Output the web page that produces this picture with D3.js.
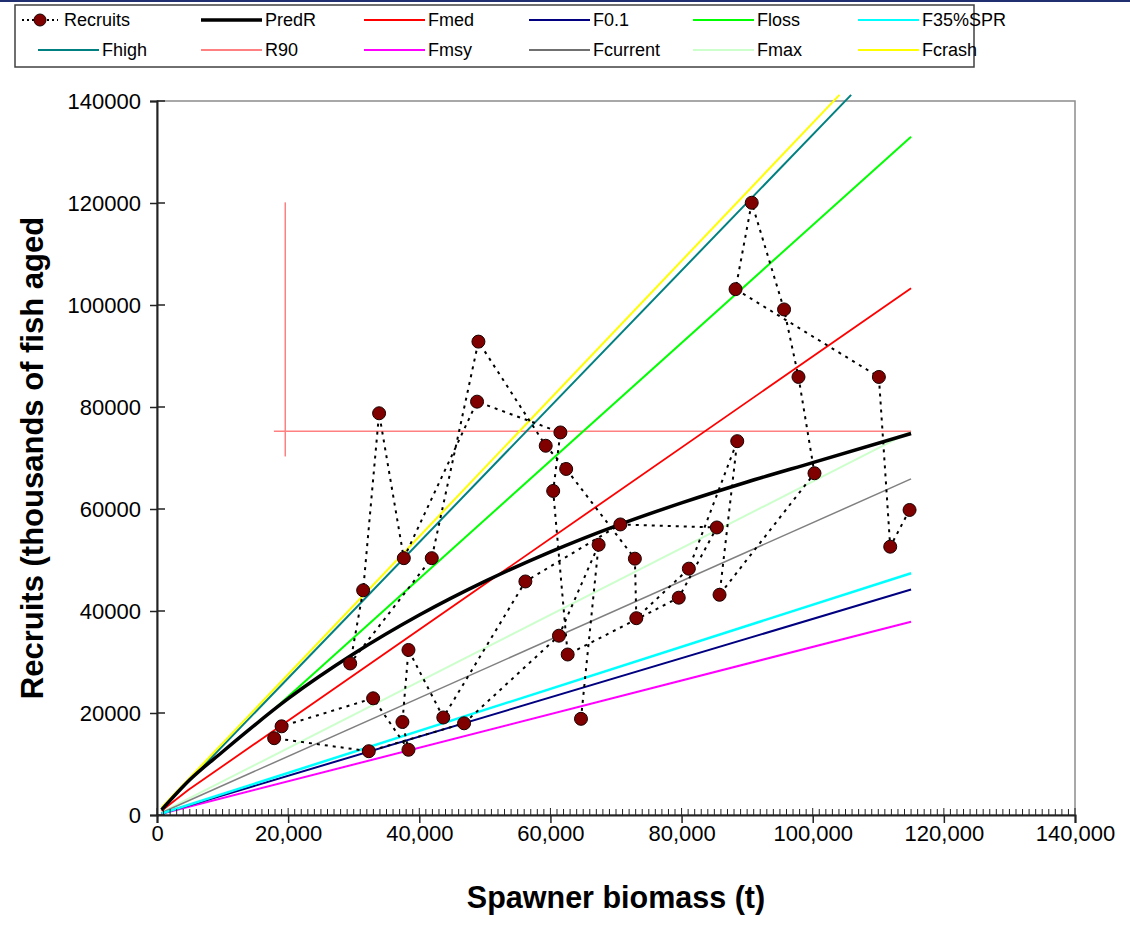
<!DOCTYPE html>
<html><head><meta charset="utf-8">
<script src="https://cdn.jsdelivr.net/npm/d3@7"></script>
<style>body{margin:0;background:#fff} svg{display:block} text{font-family:"Liberation Sans",Arial,sans-serif}</style>
</head><body><svg id="c" width="1130" height="937"></svg>
<script>
// ---- Observed recruits (connected in time order) ----
const recruitSSB = [64660,67350,61300,46830,32300,17870,19000,32960,38350,37430,38350,43660,56180,70660,85380,79570,62630,60420,61520,48810,37640,33870,31440,29460,41900,49020,59280,62400,72880,73100,81110,88490,85790,100270,97830,95630,90700,88230,110090,111820,114770];
const recruitValues = [18860,52990,35160,17980,12510,15060,17390,22880,12790,18240,32360,19120,45790,56970,56380,42610,31470,63540,75010,81050,50360,78770,44060,29710,50360,92820,72400,67850,50260,38590,48300,73300,43180,67010,85890,99130,120050,103110,85890,52610,59810];

// ---- Predicted recruitment curve ----
const predSSB = [700,5000,10000,20000,30000,40000,50000,60000,70000,80000,90000,100000,115000];
const predValues = [1000,6900,12400,22800,31600,39200,45800,51600,56700,61200,65300,69100,74800];

// ---- Reference lines (SSB, recruits) ----
const fmedSSB = [700,4760,115000];       const fmedValues = [850,4900,103300];
const f01SSB = [700,115000];             const f01Values = [280,44200];
const flossSSB = [17980,115000];         const flossValues = [20900,133000];
const f35SSB = [700,115000];             const f35Values = [300,47400];
const fhighSSB = [700,105860];           const fhighValues = [1130,141200];
const r90hSSB = [17830,115000];          const r90hValues = [75230,75230];
const r90vSSB = [19560,19560];           const r90vValues = [70300,120130];
const fmsySSB = [700,115000];            const fmsyValues = [250,37900];
const fcurSSB = [700,115000];            const fcurValues = [450,65900];
const fmaxSSB = [700,115000];            const fmaxValues = [500,75200];
const fcrashSSB = [700,104080];          const fcrashValues = [1500,141200];

const xTicks = [0,20000,40000,60000,80000,100000,120000,140000];
const yTicks = [0,20000,40000,60000,80000,100000,120000,140000];

const legendNames = ["Recruits","PredR","Fmed","F0.1","Floss","F35%SPR","Fhigh","R90","Fmsy","Fcurrent","Fmax","Fcrash"];
const legendColors = ["#000","#000","#ff0000","#000080","#00ff00","#00ffff","#008080","#ff8080","#ff00ff","#707070","#ccffcc","#ffff00"];

// ---- Drawing ----
const svg = d3.select("#c");
const L = 157, R = 1075, T = 101, B = 815;
const x = d3.scaleLinear().domain([0,140000]).range([L,R]);
const y = d3.scaleLinear().domain([0,140000]).range([B,T]);

svg.append("rect").attr("x",0).attr("y",0).attr("width",1130).attr("height",2).attr("fill","#1f2f6f");

svg.append("rect").attr("x",L).attr("y",T).attr("width",R-L).attr("height",B-T)
  .attr("fill","none").attr("stroke","#8c8c8c").attr("stroke-width",1.5);

svg.append("clipPath").attr("id","clip").append("rect")
  .attr("x",L).attr("y",93).attr("width",R-L).attr("height",B-93);

const line = d3.line().x(d=>x(d[0])).y(d=>y(d[1]));
const g = svg.append("g").attr("clip-path","url(#clip)");
function zip(a,b){return a.map((v,i)=>[v,b[i]]);}

const series = [
  {d:zip(fmaxSSB,fmaxValues), c:"#ccffcc", w:2},
  {d:zip(fcurSSB,fcurValues), c:"#808080", w:1.5},
  {d:zip(fmsySSB,fmsyValues), c:"#ff00ff", w:2},
  {d:zip(f01SSB,f01Values), c:"#000080", w:2},
  {d:zip(f35SSB,f35Values), c:"#00ffff", w:2.5},
  {d:zip(r90hSSB,r90hValues), c:"#ff8080", w:1.5},
  {d:zip(r90vSSB,r90vValues), c:"#ff8080", w:1.5},
  {d:zip(fmedSSB,fmedValues), c:"#ff0000", w:1.8},
  {d:zip(flossSSB,flossValues), c:"#00ff00", w:2},
  {d:zip(fhighSSB,fhighValues), c:"#008080", w:2},
  {d:zip(fcrashSSB,fcrashValues), c:"#ffff00", w:2}
];
series.forEach(s=>{
  g.append("path").attr("d",line(s.d)).attr("fill","none").attr("stroke",s.c).attr("stroke-width",s.w);
});
g.append("path").attr("d",d3.line().x(d=>x(d[0])).y(d=>y(d[1])).curve(d3.curveMonotoneX)(zip(predSSB,predValues)))
  .attr("fill","none").attr("stroke","#000").attr("stroke-width",3.5);

const rec = zip(recruitSSB,recruitValues);
g.append("path").attr("d",line(rec)).attr("fill","none").attr("stroke","#000")
  .attr("stroke-width",2).attr("stroke-dasharray","3,5");
g.selectAll("circle.rec").data(rec).enter().append("circle").attr("class","rec")
  .attr("cx",d=>x(d[0])).attr("cy",d=>y(d[1])).attr("r",6.5)
  .attr("fill","#800000").attr("stroke","#1a0000").attr("stroke-width",1);

// axes
const fs = 22;
const xAxis = svg.append("g").attr("transform",`translate(0,${B})`)
  .call(d3.axisBottom(x).tickValues(xTicks).tickFormat(d3.format(",")).tickSize(8).tickPadding(2));
xAxis.selectAll("text").attr("font-size",fs).attr("fill","#000");
xAxis.select(".domain").attr("stroke","#222").attr("stroke-width",2);
xAxis.selectAll(".tick line").attr("stroke","#222").attr("stroke-width",1.5);
const minor = d3.range(0,140001,1000);
svg.append("g").selectAll("line").data(minor).enter().append("line")
  .attr("x1",d=>x(d)).attr("x2",d=>x(d)).attr("y1",B).attr("y2",d=>d%20000===0?B-7:B-6)
  .attr("stroke","#222").attr("stroke-width",1);

const yAxis = svg.append("g").attr("transform",`translate(${L},0)`)
  .call(d3.axisLeft(y).tickValues(yTicks).tickFormat(d3.format("d")).tickSize(7).tickPadding(9));
yAxis.selectAll("text").attr("font-size",fs).attr("fill","#000");
yAxis.select(".domain").attr("stroke","#222").attr("stroke-width",2);
yAxis.selectAll(".tick line").attr("stroke","#222").attr("stroke-width",1.5);
svg.append("g").selectAll("line").data(yTicks).enter().append("line")
  .attr("x1",L).attr("x2",L+8).attr("y1",d=>y(d)).attr("y2",d=>y(d))
  .attr("stroke","#222").attr("stroke-width",1.5);

// titles
svg.append("text").attr("x",616).attr("y",908).attr("text-anchor","middle")
  .attr("font-size",30.5).attr("font-weight","bold").text("Spawner biomass (t)");
svg.append("text").attr("transform","translate(43,458) rotate(-90)").attr("text-anchor","middle")
  .attr("font-size",31).attr("font-weight","bold").text("Recruits (thousands of fish aged");

// legend
svg.append("rect").attr("x",15).attr("y",5).attr("width",959).attr("height",62)
  .attr("fill","#fff").attr("stroke","#404040").attr("stroke-width",1.5);
const textX = [64,265,428,593,757,922,102,265,428,593,757,922];
legendNames.forEach((n,i)=>{
  const row = i<6?0:1, ty = row===0?20:50, tx = textX[i];
  const lg = svg.append("g");
  if(i===0){
    lg.append("line").attr("x1",22).attr("x2",58).attr("y1",ty).attr("y2",ty)
      .attr("stroke","#000").attr("stroke-width",2).attr("stroke-dasharray","2,3");
    lg.append("circle").attr("cx",40).attr("cy",ty).attr("r",6).attr("fill","#800000").attr("stroke","#1a0000");
  } else {
    lg.append("line").attr("x1",tx-64).attr("x2",tx-3).attr("y1",ty).attr("y2",ty)
      .attr("stroke",legendColors[i]).attr("stroke-width",n==="PredR"?3.5:2);
  }
  lg.append("text").attr("x",tx).attr("y",ty).attr("dy","0.35em").attr("font-size",18).text(n);
});
</script></body></html>
